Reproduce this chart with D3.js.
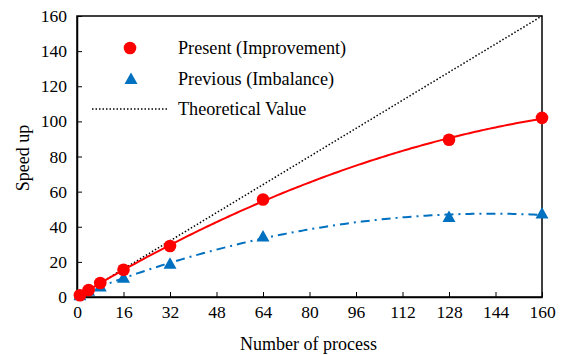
<!DOCTYPE html>
<html>
<head>
<meta charset="utf-8">
<script src="https://cdn.jsdelivr.net/npm/d3@7"></script>
<style>
body { margin: 0; background: #fff; }
svg text { font-family: 'Liberation Serif', 'Times New Roman', 'DejaVu Serif', serif; }
</style>
</head>
<body>
<script>
var width = 563;
var height = 355;

// data
var processes = [1, 4, 8, 16, 32, 64, 128, 160];
var presentSpeedup = [1, 4, 8, 15.5, 29, 55.5, 89.5, 102];
var previousSpeedup = [1, 3.5, 6, 11, 19, 34.5, 45.5, 47.5];
var xTicks = [0, 16, 32, 48, 64, 80, 96, 112, 128, 144, 160];
var yTicks = [0, 20, 40, 60, 80, 100, 120, 140, 160];
var legendLabels = ["Present (Improvement)", "Previous (Imbalance)", "Theoretical Value"];

var serif = "'Liberation Serif', 'Times New Roman', 'DejaVu Serif', serif";
var margin = {top: 16, right: 21, bottom: 58, left: 77};

var svg = d3.select("body").append("svg")
    .attr("width", width)
    .attr("height", height)
    .attr("font-family", serif);

var x = d3.scaleLinear().domain([0, 160]).range([margin.left, width - margin.right]);
var y = d3.scaleLinear().domain([0, 160]).range([height - margin.bottom, margin.top]);

// least squares polynomial trend line (like a spreadsheet trendline)
function polyFit(xs, ys, order) {
    var n = order + 1;
    var A = [], b = [];
    for (var i = 0; i < n; i++) {
        A.push([]);
        for (var j = 0; j < n; j++) {
            A[i].push(d3.sum(xs, function(v) { return Math.pow(v, i + j); }));
        }
        b.push(d3.sum(xs, function(v, k) { return Math.pow(v, i) * ys[k]; }));
    }
    for (var c = 0; c < n; c++) {
        for (var r = c + 1; r < n; r++) {
            var f = A[r][c] / A[c][c];
            for (var k = c; k < n; k++) A[r][k] -= f * A[c][k];
            b[r] -= f * b[c];
        }
    }
    var coef = new Array(n);
    for (var r2 = n - 1; r2 >= 0; r2--) {
        var s = b[r2];
        for (var k2 = r2 + 1; k2 < n; k2++) s -= A[r2][k2] * coef[k2];
        coef[r2] = s / A[r2][r2];
    }
    return function(v) {
        return d3.sum(coef, function(cf, p) { return cf * Math.pow(v, p); });
    };
}

var presentFit = polyFit(processes, presentSpeedup, 2);
var previousFit = polyFit(processes, previousSpeedup, 2);
var xs = d3.range(0, 160.5, 1);

var line = d3.line()
    .x(function(d) { return x(d[0]); })
    .y(function(d) { return y(d[1]); });

// frame
svg.append("rect")
    .attr("x", x(0)).attr("y", y(160))
    .attr("width", x(160) - x(0)).attr("height", y(0) - y(160))
    .attr("fill", "none").attr("stroke", "#000").attr("stroke-width", 1.5);

// axes, ticks pointing inward
var xAxis = svg.append("g")
    .attr("transform", "translate(0," + y(0) + ")")
    .call(d3.axisBottom(x).tickValues(xTicks).tickSizeInner(-5).tickSizeOuter(0).tickPadding(9));
var yAxis = svg.append("g")
    .attr("transform", "translate(" + x(0) + ",0)")
    .call(d3.axisLeft(y).tickValues(yTicks).tickSizeInner(-5).tickSizeOuter(0).tickPadding(10));

[xAxis, yAxis].forEach(function(g) {
    g.attr("font-family", serif).attr("font-size", 17.5);
    g.select(".domain").attr("stroke", "#000").attr("stroke-width", 1.5);
    g.selectAll(".tick line").attr("stroke", "#000");
    g.selectAll(".tick text").attr("fill", "#000");
});

// theoretical line
svg.append("path")
    .attr("d", line([[0, 0], [160, 160]]))
    .attr("fill", "none").attr("stroke", "#000")
    .attr("stroke-width", 1.5).attr("stroke-dasharray", "1.5,2");

// trend lines
svg.append("path")
    .attr("d", line(xs.map(function(v) { return [v, previousFit(v)]; })))
    .attr("fill", "none").attr("stroke", "#0070C0")
    .attr("stroke-width", 2).attr("stroke-dasharray", "9,5,2,5");

svg.append("path")
    .attr("d", line(xs.map(function(v) { return [v, presentFit(v)]; })))
    .attr("fill", "none").attr("stroke", "#ff0000").attr("stroke-width", 2);

// flattish triangle marker
var flatTriangle = {
    draw: function(context) {
        context.moveTo(0, -6.5);
        context.lineTo(6.5, 5);
        context.lineTo(-6.5, 5);
        context.closePath();
    }
};
var tri = d3.symbol().type(flatTriangle);

svg.selectAll(".prev")
    .data(processes)
    .enter().append("path")
        .attr("class", "prev")
        .attr("d", tri)
        .attr("transform", function(d, i) { return "translate(" + x(d) + "," + y(previousSpeedup[i]) + ")"; })
        .attr("fill", "#0070C0");

svg.selectAll(".pres")
    .data(processes)
    .enter().append("circle")
        .attr("class", "pres")
        .attr("cx", function(d) { return x(d); })
        .attr("cy", function(d, i) { return y(presentSpeedup[i]); })
        .attr("r", 6.3)
        .attr("fill", "#ff0000");

// legend
var legend = svg.append("g");
legend.append("circle").attr("cx", 130).attr("cy", 48).attr("r", 6.3).attr("fill", "#ff0000");
legend.append("path").attr("d", tri).attr("transform", "translate(131,79)").attr("fill", "#0070C0");
legend.append("line").attr("x1", 92).attr("x2", 167).attr("y1", 109).attr("y2", 109)
    .attr("stroke", "#000").attr("stroke-width", 1.5).attr("stroke-dasharray", "1.5,2");
legend.selectAll("text")
    .data(legendLabels)
    .enter().append("text")
        .attr("x", 178)
        .attr("y", function(d, i) { return 48 + i * 30.5; })
        .attr("dy", "0.35em")
        .attr("font-size", 18.2)
        .text(function(d) { return d; });

// axis titles
svg.append("text")
    .attr("x", (x(0) + x(160)) / 2 - 1).attr("y", 350)
    .attr("text-anchor", "middle").attr("font-size", 18)
    .text("Number of process");
svg.append("text")
    .attr("transform", "translate(29," + 158 + ") rotate(-90)")
    .attr("text-anchor", "middle").attr("font-size", 18)
    .text("Speed up");
</script>
</body>
</html>
